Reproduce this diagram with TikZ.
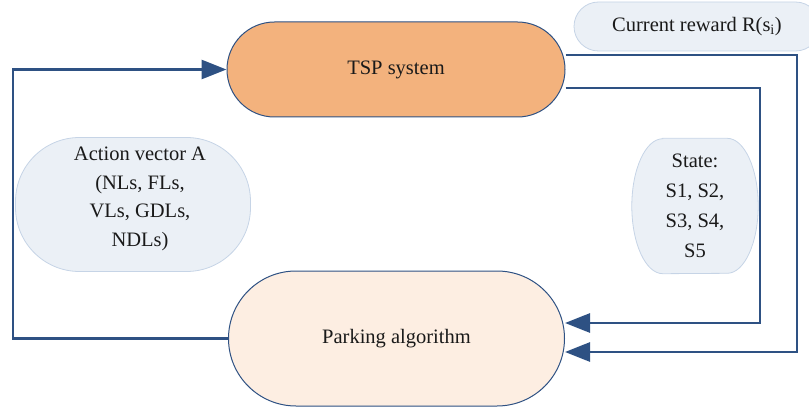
\documentclass[tikz,border=0pt]{standalone}
\usepackage{fontspec}
\setmainfont{Liberation Serif}
\usetikzlibrary{arrows.meta,backgrounds}
\definecolor{linec}{HTML}{2E5183}
\definecolor{tspfill}{HTML}{F3B27D}
\definecolor{parkfill}{HTML}{FDEEE2}
\definecolor{bluefill}{HTML}{EBF0F6}
\definecolor{blueborder}{HTML}{C6D4E6}
\definecolor{txt}{HTML}{1A1A1A}
\tikzset{
  base/.style={draw, inner sep=0pt, align=center, text=txt,
    font=\fontsize{20.5}{28.5}\selectfont},
  mainbox/.style={base, draw=linec, line width=1pt},
  infobox/.style={base, draw=blueborder, fill=bluefill, line width=0.8pt},
  infoshape/.style={draw=blueborder, fill=bluefill, line width=0.8pt},
  conn/.style={draw=linec, line width=2.8pt, -{Triangle[length=25pt,width=19pt]}}
}
\begin{document}
\begin{tikzpicture}[x=1pt,y=-1pt]
\useasboundingbox (0,0) rectangle (809,409);
\node[mainbox, fill=tspfill, minimum width=338pt, minimum height=95pt, rounded corners=47.5pt] (tsp) at (396,69.5) {TSP system};
\node[mainbox, fill=parkfill, minimum width=336pt, minimum height=135pt, rounded corners=67.5pt] (park) at (396.5,338.5) {Parking algorithm};
\node[infobox, minimum width=246pt, minimum height=49pt, rounded corners=24.5pt] (reward) at (697,26.5) {Current reward R(s\textsubscript{i})};
\node[infobox, minimum width=235pt, minimum height=134pt, rounded corners=64pt] (action) at (133,204.5) {};
\node[base, draw=none] (actiontext) at (140,199) {Action vector A\\(NLs, FLs,\\VLs, GDLs,\\NDLs)};
\node[base, draw=none, minimum width=126pt, minimum height=135pt, font=\fontsize{20.5}{30}\selectfont] (state) at (695,206) {State:\\S1, S2,\\S3, S4,\\S5};
\begin{pgfonlayer}{background}
\path[infoshape] ([xshift=31pt]state.north west) -- ([xshift=-31pt]state.north east)
  arc[start angle=90, end angle=-90, x radius=31pt, y radius=67.5pt]
  -- ([xshift=31pt]state.south west)
  arc[start angle=270, end angle=90, x radius=31pt, y radius=67.5pt] -- cycle;
\end{pgfonlayer}
\coordinate (lc) at (13,338.5);
\coordinate (r1) at (797,352);
\coordinate (r2) at (760,323);
\draw[conn] (park.west) -| (lc) |- (tsp.west);
\draw[conn] ([yshift=14.5pt]tsp.east) -| (r1) -- ([yshift=-13.5pt]park.east);
\draw[conn] ([yshift=-18.5pt]tsp.east) -| (r2) -- ([yshift=15.5pt]park.east);
\end{tikzpicture}
\end{document}
